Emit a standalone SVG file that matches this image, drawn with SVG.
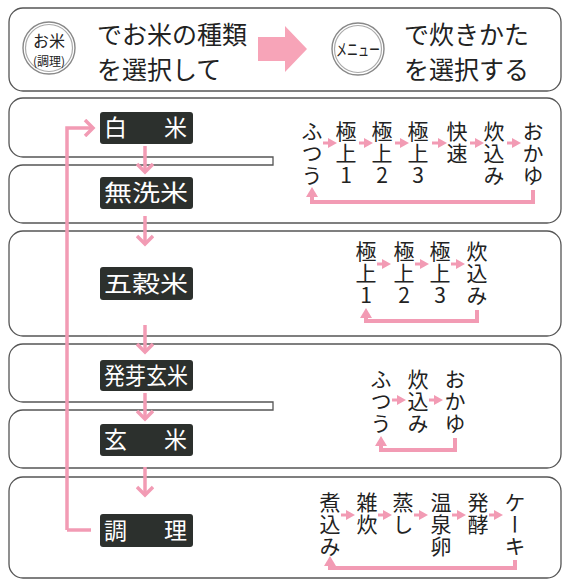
<svg xmlns="http://www.w3.org/2000/svg" width="566" height="581" viewBox="0 0 566 581">
<style>
.box{fill:#fff;stroke:#555;stroke-width:1.3}
.lab{fill:#2c302d}
.lt{fill:#fff;font-family:"Noto Sans CJK JP","Noto Sans",sans-serif;font-size:23px}
.col{fill:#222;font-family:"Noto Sans CJK JP","Noto Sans",sans-serif;font-size:21px;writing-mode:vertical-rl;text-orientation:upright;letter-spacing:1px}
.hd{fill:#222;font-family:"Noto Sans CJK JP","Noto Sans",sans-serif;font-size:25px}
.ring1{fill:#fff;stroke:#888;stroke-width:1.4}
.ring2{fill:none;stroke:#aaa;stroke-width:1.2}
.flow{fill:none;stroke:#f29bb4;stroke-width:3.5}
.sm{fill:none;stroke:#f29bb4;stroke-width:3}
.ret{fill:none;stroke:#f29bb4;stroke-width:4}
</style>
<defs>
<marker id="chev" markerUnits="userSpaceOnUse" markerWidth="14" markerHeight="18" refX="9" refY="9" orient="auto">
<path d="M2,1 L10,9 L2,17" fill="none" stroke="#f29bb4" stroke-width="3.5"/>
</marker>
<marker id="tri" markerUnits="userSpaceOnUse" markerWidth="9" markerHeight="10" refX="3" refY="5" orient="auto">
<path d="M0,0 L9,5 L0,10 z" fill="#f29bb4"/>
</marker>
<marker id="tri2" markerUnits="userSpaceOnUse" markerWidth="10" markerHeight="12" refX="3" refY="6" orient="auto">
<path d="M0,0 L10,6 L0,12 z" fill="#f29bb4"/>
</marker>
</defs>
<rect width="566" height="581" fill="#fff"/>

<g id="header">
<rect class="box" x="9" y="8" width="552" height="83" rx="14"/>
<circle class="ring1" cx="49" cy="48" r="26"/>
<circle class="ring2" cx="49" cy="48" r="23.5"/>
<text x="49" y="47" text-anchor="middle" style="font-family:'Noto Sans CJK JP',sans-serif;font-size:16px;fill:#222">お米</text>
<text x="49" y="66" text-anchor="middle" style="font-family:'Noto Sans CJK JP',sans-serif;font-size:12px;fill:#222">(調理)</text>
<text class="hd" x="97" y="44">でお米の種類</text>
<text class="hd" x="97" y="79">を選択して</text>
<polygon points="258,37 285,37 285,26 307,49 285,72 285,61 258,61" fill="#f7a4b8"/>
<circle class="ring1" cx="358" cy="49" r="26"/>
<circle class="ring2" cx="358" cy="49" r="23.5"/>
<text x="358" y="56" text-anchor="middle" textLength="44" lengthAdjust="spacingAndGlyphs" style="font-family:'Noto Sans CJK JP',sans-serif;font-size:17px;fill:#222">メニュー</text>
<text class="hd" x="404" y="44">で炊きかた</text>
<text class="hd" x="404" y="79">を選択する</text>
</g>

<g id="frames">
<path class="box" d="M23,98 H547 A14,14 0 0 1 561,112 V209 A14,14 0 0 1 547,223 H23 A14,14 0 0 1 9,209 V179 A14,14 0 0 1 23,165 H273 V157 H23 A14,14 0 0 1 9,143 V112 A14,14 0 0 1 23,98 Z"/>
<rect class="box" x="9" y="231" width="552" height="105" rx="14"/>
<path class="box" d="M23,344 H547 A14,14 0 0 1 561,358 V454 A14,14 0 0 1 547,468 H23 A14,14 0 0 1 9,454 V424 A14,14 0 0 1 23,410 H273 V402 H23 A14,14 0 0 1 9,388 V358 A14,14 0 0 1 23,344 Z"/>
<rect class="box" x="9" y="477" width="552" height="101" rx="14"/>
</g>

<g id="connectors">
<path class="flow" d="M67,530 V128 H92" marker-end="url(#chev)"/>
<path class="flow" d="M67,530 H91"/>
<path class="flow" d="M145,146 V171" marker-end="url(#chev)"/>
<path class="flow" d="M145,216 V243" marker-end="url(#chev)"/>
<path class="flow" d="M145,325 V351" marker-end="url(#chev)"/>
<path class="flow" d="M145,393 V418" marker-end="url(#chev)"/>
<path class="flow" d="M145,467 V494" marker-end="url(#chev)"/>
</g>

<g id="label-hakumai"><rect class="lab" x="100" y="112" width="93" height="32" rx="3"/><text class="lt" x="104" y="136" textLength="83" lengthAdjust="spacing">白　米</text></g>
<g id="label-musenmai"><rect class="lab" x="100" y="177" width="93" height="32" rx="3"/><text class="lt" x="104" y="201" textLength="84" lengthAdjust="spacingAndGlyphs">無洗米</text></g>
<g id="label-gokokumai"><rect class="lab" x="100" y="267" width="93" height="33" rx="3"/><text class="lt" x="104" y="292" textLength="84" lengthAdjust="spacingAndGlyphs">五穀米</text></g>
<g id="label-hatsuga"><rect class="lab" x="100" y="360" width="93" height="31" rx="3"/><text class="lt" x="104" y="384" textLength="84" lengthAdjust="spacingAndGlyphs">発芽玄米</text></g>
<g id="label-genmai"><rect class="lab" x="100" y="424" width="93" height="32" rx="3"/><text class="lt" x="104" y="448" textLength="83" lengthAdjust="spacing">玄　米</text></g>
<g id="label-chouri"><rect class="lab" x="100" y="514" width="93" height="33" rx="3"/><text class="lt" x="104" y="539" textLength="83" lengthAdjust="spacing">調　理</text></g>

<g id="menu-hakumai">
<text class="col" x="312" y="121">ふつう</text>
<text class="col" x="346" y="121">極上1</text>
<text class="col" x="382" y="121">極上2</text>
<text class="col" x="418" y="121">極上3</text>
<text class="col" x="457" y="121">快速</text>
<text class="col" x="494" y="121">炊込み</text>
<text class="col" x="533" y="121">おかゆ</text>
<path class="sm" d="M323,143 H331" marker-end="url(#tri)"/>
<path class="sm" d="M359,143 H367" marker-end="url(#tri)"/>
<path class="sm" d="M395,143 H403" marker-end="url(#tri)"/>
<path class="sm" d="M432,143 H441" marker-end="url(#tri)"/>
<path class="sm" d="M470,143 H478" marker-end="url(#tri)"/>
<path class="sm" d="M507,143 H515" marker-end="url(#tri)"/>
<path class="ret" d="M533,190 V202 H312 V194" marker-end="url(#tri2)"/>
</g>

<g id="menu-gokokumai">
<text class="col" x="366" y="241">極上1</text>
<text class="col" x="404" y="241">極上2</text>
<text class="col" x="440" y="241">極上3</text>
<text class="col" x="477" y="241">炊込み</text>
<path class="sm" d="M377,264 H385" marker-end="url(#tri)"/>
<path class="sm" d="M415,264 H423" marker-end="url(#tri)"/>
<path class="sm" d="M451,264 H459" marker-end="url(#tri)"/>
<path class="ret" d="M477,310 V321 H366 V315" marker-end="url(#tri2)"/>
</g>

<g id="menu-genmai">
<text class="col" x="381" y="369">ふつう</text>
<text class="col" x="418" y="369">炊込み</text>
<text class="col" x="455" y="369">おかゆ</text>
<path class="sm" d="M392,400 H400" marker-end="url(#tri)"/>
<path class="sm" d="M429,400 H437" marker-end="url(#tri)"/>
<path class="ret" d="M455,438 V450 H381 V443" marker-end="url(#tri2)"/>
</g>

<g id="menu-chouri">
<text class="col" x="330" y="492">煮込み</text>
<text class="col" x="367" y="492">雑炊</text>
<text class="col" x="403" y="492">蒸し</text>
<text class="col" x="441" y="492">温泉卵</text>
<text class="col" x="478" y="492">発酵</text>
<text class="col" x="515" y="492">ケーキ</text>
<path class="sm" d="M341,515 H349" marker-end="url(#tri)"/>
<path class="sm" d="M378,515 H386" marker-end="url(#tri)"/>
<path class="sm" d="M414,515 H422" marker-end="url(#tri)"/>
<path class="sm" d="M452,515 H460" marker-end="url(#tri)"/>
<path class="sm" d="M489,515 H497" marker-end="url(#tri)"/>
<path class="ret" d="M515,560 V568 H330 V563" marker-end="url(#tri2)"/>
</g>
</svg>
